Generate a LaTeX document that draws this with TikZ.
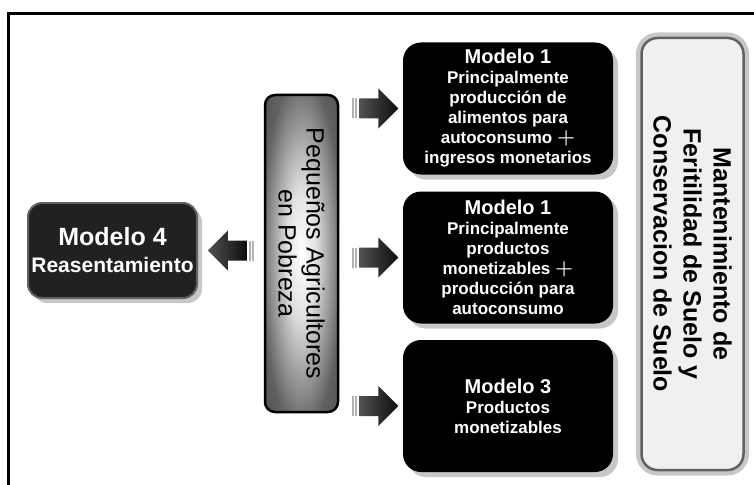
\documentclass[tikz,border=0pt]{standalone}
\usepackage{fontspec}
\setmainfont{Liberation Sans}
\usetikzlibrary{positioning,calc,shadows}

\pgfdeclareradialshading{brillo}{\pgfpoint{0bp}{0bp}}{color(0bp)=(white); color(10bp)=(black!12); color(28bp)=(black!62); color(50bp)=(black!78); color(75bp)=(black!82)}

\tikzset{
  sombra/.style={drop shadow={shadow xshift=5pt, shadow yshift=-5pt, fill=black!22, opacity=1}},
  modelo/.style={sombra, rounded corners=18pt, fill=black, text=white, align=center, inner sep=0pt,
    minimum width=210pt, minimum height=132pt, font=\bfseries\fontsize{17}{20}\selectfont},
  pics/flecha/.style={code={
    \shade[left color=black!68, right color=black!95] (0,-10) -- (19,-10) -- (19,-20) -- (39,0) -- (19,20) -- (19,10) -- (0,10) -- cycle;
    \fill[black!30] (-7,-10) rectangle (-5.5,10);
    \fill[black!30] (-4,-10) rectangle (-2.5,10);
  }}
}
\newcommand{\titulo}[1]{{\fontsize{20}{20}\selectfont #1}}
\newcommand{\mas}{{\fontsize{22}{20}\selectfont$\boldsymbol{+}$}}
\usepackage{amsmath,amsbsy}

\begin{document}
\begin{tikzpicture}[x=1pt, y=-1pt]
  \useasboundingbox (0,0) rectangle (754,484);
  \draw[line width=3pt] (8.5,500) |- (770,13.5);

  % centro
  \node[name=peq, minimum width=73pt, minimum height=317pt, rounded corners=10pt,
        draw=black, line width=2.5pt, shading=brillo] at (301.5,253.5) {};
  \node[name=peqtxt, rotate=-90, align=center, font=\fontsize{25}{28}\selectfont]
        at (peq.center) {Pequeños Agricultores\\en Pobreza};

  % modelos
  \node[name=m4, sombra, minimum width=169pt, minimum height=95pt, rounded corners=14pt,
        fill=black!87, draw=black!62, line width=2pt, text=white, align=center,
        font=\bfseries\fontsize{21}{27}\selectfont] at (112.5,250.5)
        {{\fontsize{25}{27}\selectfont Modelo 4}\\Reasentamiento};
  \node[name=m1, modelo] at (508,108.5)
        {\titulo{Modelo 1}\\Principalmente\\producción de\\alimentos para\\autoconsumo \mas\\ingresos monetarios};
  \node[name=m2, modelo] at (508,257.5)
        {\titulo{Modelo 1}\\Principalmente\\productos\\monetizables \mas\\producción para\\autoconsumo};
  \node[name=m3, modelo] at (508,406)
        {\titulo{Modelo 3}\\Productos\\monetizables};

  % suelo
  \node[name=suelo, minimum width=102pt, minimum height=432pt, rounded corners=16pt,
        preaction={draw=black!22, line width=11pt},
        fill=black!6, draw=black!62, line width=2.5pt] at (692.5,254) {};
  \node[name=suelotxt, rotate=-90, align=center, font=\bfseries\fontsize{25}{30}\selectfont]
        at (suelo.center) {Mantenimiento de\\Feritilidad de Suelo y\\Conservacion de Suelo};

  % flechas
  \pic at ($(peq.east |- m1.west)+(20,0)$) {flecha};
  \pic at ($(peq.east |- m2.west)+(20,0)$) {flecha};
  \pic at ($(peq.east |- m3.west)+(20,0)$) {flecha};
  \pic[rotate=180] at ($(peq.west |- m4.east)+(-17,0)$) {flecha};
\end{tikzpicture}
\end{document}
